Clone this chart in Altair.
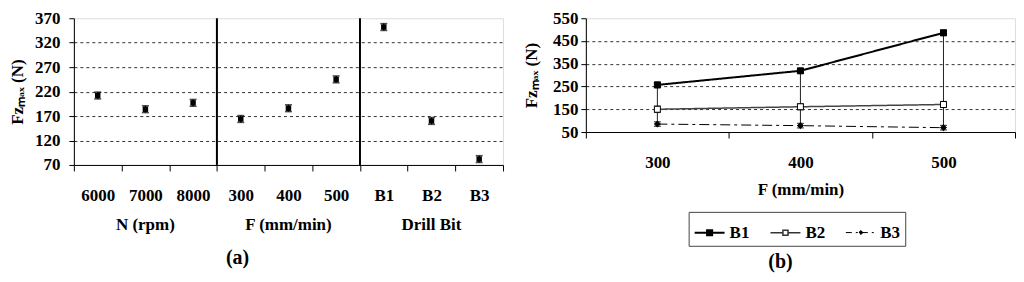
import altair as alt
import pandas as pd

SERIF = "Liberation Serif, Times New Roman, serif"

# ---------- panel (a) data ----------
cats_a = ["6000", "7000", "8000", "300", "400", "500", "B1", "B2", "B3"]
fz_a = [212, 184, 197, 164, 186, 245, 352, 160, 82]
err_a = [7, 7, 7, 7, 7, 7, 7, 7, 7]
groups_a = ["N (rpm)", "F (mm/min)", "Drill Bit"]
sep_groups = ["F (mm/min)", "Drill Bit"]
yticks_a = [70, 120, 170, 220, 270, 320, 370]

# ---------- panel (b) data ----------
feeds = ["300", "400", "500"]
series = ["B1", "B2", "B3"]
b1 = [257, 319, 486]
b2 = [150, 161, 171]
b3 = [85, 78, 69]
err_b1 = [12, 10, 12]
err_b2 = [14, 13, 13]
err_b3 = [10, 10, 10]
yticks_b = [50, 150, 250, 350, 450, 550]

W = 430
HA = 147
HB = 114
YTITLE = "Fzₘₐₓ (N)"

label_style = dict(labelFont=SERIF, labelFontSize=17, labelFontWeight="bold",
                   labelColor="black", titleFont=SERIF, titleFontSize=17,
                   titleFontWeight="bold", titleColor="black")

# ---------- panel (a) ----------
df_a = pd.DataFrame({
    "cat": cats_a,
    "fz": fz_a,
    "lo": [v - e for v, e in zip(fz_a, err_a)],
    "hi": [v + e for v, e in zip(fz_a, err_a)],
})
df_sep = pd.DataFrame({"g": sep_groups})

ya_scale = alt.Scale(domain=[yticks_a[0], yticks_a[-1]], nice=False, zero=False)
xa = alt.X("cat:N", sort=cats_a,
           scale=alt.Scale(type="band", domain=cats_a, paddingInner=0, paddingOuter=0),
           axis=alt.Axis(orient="bottom", title=None, tickBand="extent", labelAngle=0,
                         domainColor="black", tickColor="black", tickSize=6,
                         labelPadding=17, **label_style))
ya_axis = alt.Axis(values=yticks_a, title=YTITLE, grid=True, labelOverlap=False,
                   gridDash=[3, 3], gridColor="#333",
                   gridOpacity={"condition": {"test": f"datum.value >= {yticks_a[-1]} || datum.value <= {yticks_a[0]}", "value": 0}, "value": 1},
                   domainColor="black", tickColor="black", tickSize=5,
                   labelPadding=9, titlePadding=8, **label_style)

err_layer_a = alt.Chart(df_a).mark_errorbar(ticks=True, color="black", thickness=1.5, size=7).encode(
    x=xa, y=alt.Y("lo:Q", scale=ya_scale, axis=ya_axis, title=YTITLE), y2="hi:Q")
pts_a = alt.Chart(df_a).mark_point(shape="square", filled=True, color="black", size=30, opacity=1).encode(
    x=xa, y=alt.Y("fz:Q", scale=ya_scale, axis=ya_axis, title=YTITLE))

base_a = alt.layer(err_layer_a, pts_a)

sep_a = alt.Chart(df_sep).mark_rule(color="black", strokeWidth=2).encode(
    x=alt.X("g:N", bandPosition=0,
            scale=alt.Scale(type="band", domain=groups_a, paddingInner=0, paddingOuter=0),
            axis=alt.Axis(orient="bottom", title=None, domain=False, ticks=False, labelAngle=0,
                          labelPadding=52, **label_style)),
    y=alt.datum(yticks_a[-1], scale=ya_scale, axis=ya_axis, title=YTITLE),
    y2=alt.datum(yticks_a[0]),
)

left = alt.layer(base_a, sep_a).resolve_scale(x="independent").properties(
    width=W, height=HA,
    title=alt.TitleParams("(a)", orient="bottom", font=SERIF, fontSize=20, fontWeight="bold",
                          color="black", offset=15, dx=-51))

# ---------- panel (b) ----------
rows = []
for s, vals, errs in [("B1", b1, err_b1), ("B2", b2, err_b2), ("B3", b3, err_b3)]:
    for f, v, e in zip(feeds, vals, errs):
        rows.append({"feed": f, "series": s, "leg": s, "fz": v, "lo": v - e, "hi": v + e})
df_b = pd.DataFrame(rows)

yb_scale = alt.Scale(domain=[yticks_b[0], yticks_b[-1]], nice=False, zero=False)
xb = alt.X("feed:N", sort=feeds,
           scale=alt.Scale(type="band", domain=feeds, paddingInner=0, paddingOuter=0),
           axis=alt.Axis(orient="bottom", title="F (mm/min)", tickBand="extent", labelAngle=0,
                         domainColor="black", tickColor="black", tickSize=6,
                         labelPadding=17, titlePadding=11, **label_style))
yb_axis = alt.Axis(values=yticks_b, title=YTITLE, grid=True, labelOverlap=False,
                   gridDash=[3, 3], gridColor="#333",
                   gridOpacity={"condition": {"test": f"datum.value >= {yticks_b[-1]} || datum.value <= {yticks_b[0]}", "value": 0}, "value": 1},
                   domainColor="black", tickColor="black", tickSize=5,
                   labelPadding=3, titlePadding=12, **label_style)


def yb(field):
    return alt.Y(field, scale=yb_scale, axis=yb_axis, title=YTITLE)


hilo = alt.Chart(df_b).mark_rule(color="#222", strokeWidth=1).encode(
    x=xb, y=yb("min(fz):Q"), y2="max(fz):Q")
err_b = alt.Chart(df_b).mark_errorbar(ticks=True, color="black", thickness=1.2, size=7).encode(
    x=xb, y=yb("lo:Q"), y2="hi:Q", detail="series:N")

lines_b = alt.Chart(df_b).mark_line().encode(
    x=xb, y=yb("fz:Q"),
    stroke=alt.Stroke("series:N", scale=alt.Scale(domain=series, range=["black", "#444", "black"]), legend=None),
    strokeWidth=alt.StrokeWidth("series:N", scale=alt.Scale(domain=series, range=[2, 1, 2]), legend=None),
    strokeDash=alt.StrokeDash("series:N", scale=alt.Scale(domain=series, range=[[1, 0], [1, 0], [10, 4, 3, 4]]), legend=None),
)

pts_b = alt.Chart(df_b).mark_point(filled=True, opacity=1, stroke="black", strokeWidth=1).encode(
    x=xb, y=yb("fz:Q"),
    shape=alt.Shape("series:N", scale=alt.Scale(domain=series, range=["square", "square", "diamond"]), legend=None),
    fill=alt.Fill("series:N", scale=alt.Scale(domain=series, range=["black", "white", "black"]), legend=None),
    size=alt.Size("series:N", scale=alt.Scale(domain=series, range=[36, 36, 22]), legend=None),
)

# legend-only layer (no drawn data; legend entries come from the explicit scale domain)
P1 = "M-1,0H1M-0.17,-0.17H0.17V0.17H-0.17Z"
P2 = "M-1,0H-0.17M0.17,0H1M-0.17,-0.17H0.17V0.17H-0.17Z"
P3 = "M-1,0H1M0,-0.14L0.14,0L0,0.14L-0.14,0Z"
leg = alt.Legend(title=None, orient="none", direction="horizontal",
                 legendX=W / 2 - 112, legendY=HB + 80,
                 symbolSize=900, strokeColor="#444", padding=5,
                 columnPadding=18, labelOffset=4,
                 labelFont=SERIF, labelFontSize=17, labelFontWeight="bold",
                 labelColor="black")
legend_layer = alt.Chart(df_b).transform_filter("false").mark_point(filled=True, opacity=1).encode(
    x=xb, y=yb("fz:Q"),
    shape=alt.Shape("leg:N", scale=alt.Scale(domain=series, range=[P1, P2, P3]), legend=leg),
    fill=alt.Fill("leg:N", scale=alt.Scale(domain=series, range=["black", "white", "black"]), legend=leg),
    stroke=alt.Stroke("leg:N", scale=alt.Scale(domain=series, range=["black", "#333", "black"]), legend=leg),
    strokeWidth=alt.StrokeWidth("leg:N", scale=alt.Scale(domain=series, range=[2, 1, 2]), legend=leg),
    strokeDash=alt.StrokeDash("leg:N", scale=alt.Scale(domain=series, range=[[1, 0], [1, 0], [6, 4, 2, 4]]), legend=leg),
)

right = alt.layer(hilo, err_b, lines_b, pts_b, legend_layer).resolve_scale(
    stroke="independent", fill="independent", shape="independent",
    strokeWidth="independent", strokeDash="independent", size="independent"
).properties(
    width=W, height=HB,
    title=alt.TitleParams("(b)", orient="bottom", font=SERIF, fontSize=20, fontWeight="bold",
                          color="black", offset=6, dx=-20))

chart = alt.hconcat(left, right, spacing=18).properties(
    padding={"left": 0, "top": 0, "right": 0, "bottom": 0}
).configure_view(stroke="#999", strokeWidth=1).configure(background="white")

chart.save("out.html", embed_options={"renderer": "svg", "actions": False})
